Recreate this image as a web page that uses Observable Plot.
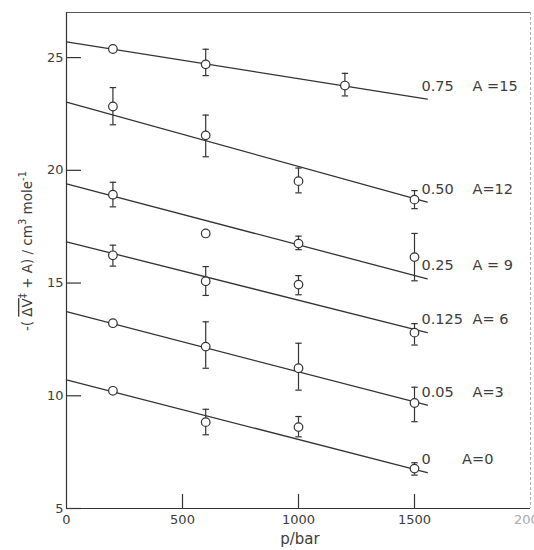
<!DOCTYPE html>
<html>
<head>
<meta charset="utf-8">
<script src="https://cdn.jsdelivr.net/npm/d3@7"></script>
<script src="https://cdn.jsdelivr.net/npm/@observablehq/plot@0.6"></script>
<style>
  html, body { margin: 0; padding: 0; background: #fff; }
  #chart svg { display: block; }
</style>
</head>
<body>
<div id="chart"></div>
<script>
// ---- data ----
const fractionLabels = ["0.75", "0.50", "0.25", "0.125", "0.05", "0"];
const aLabels = ["A =15", "A=12", "A = 9", "A= 6", "A=3", "A=0"];

// fitted straight lines: value at p = 0 and at the line's right end
const lineStart = [25.70, 23.02, 19.40, 16.83, 13.73, 10.71];
const lineEnd   = [23.16, 18.59, 15.19, 12.80, 9.58, 6.59];
const lineEndP = 1555;

// measured points per series (p in bar)
const pA15 = [200, 600, 1200];
const vA15 = [25.38, 24.70, 23.76];
const loA15 = [null, 24.20, 23.30];
const hiA15 = [null, 25.37, 24.30];

const pA12 = [200, 600, 1000, 1500];
const vA12 = [22.83, 21.55, 19.52, 18.70];
const loA12 = [22.02, 20.60, 19.00, 18.30];
const hiA12 = [23.67, 22.45, 20.10, 19.10];

const pA9 = [200, 600, 1000, 1500];
const vA9 = [18.92, 17.20, 16.75, 16.15];
const loA9 = [18.38, null, 16.48, 15.10];
const hiA9 = [19.47, null, 17.08, 17.20];

const pA6 = [200, 600, 1000, 1500];
const vA6 = [16.23, 15.08, 14.93, 12.80];
const loA6 = [15.75, 14.45, 14.48, 12.25];
const hiA6 = [16.68, 15.73, 15.33, 13.20];

const pA3 = [200, 600, 1000, 1500];
const vA3 = [13.22, 12.18, 11.22, 9.68];
const loA3 = [null, 11.22, 10.25, 8.85];
const hiA3 = [null, 13.28, 12.33, 10.38];

const pA0 = [200, 600, 1000, 1500];
const vA0 = [10.22, 8.83, 8.61, 6.77];
const loA0 = [null, 8.27, 8.18, 6.48];
const hiA0 = [null, 9.40, 9.08, 7.03];

const xTicks = [0, 500, 1000, 1500, 2000];
const xInnerTicks = [500, 1000, 1500];
const yTicks = [5, 10, 15, 20, 25];

// ---- build tables ----
const seriesP = [pA15, pA12, pA9, pA6, pA3, pA0];
const seriesV = [vA15, vA12, vA9, vA6, vA3, vA0];
const seriesLo = [loA15, loA12, loA9, loA6, loA3, loA0];
const seriesHi = [hiA15, hiA12, hiA9, hiA6, hiA3, hiA0];

const points = [];
seriesP.forEach((ps, s) => ps.forEach((p, i) => points.push({
  s, p, v: seriesV[s][i], lo: seriesLo[s][i], hi: seriesHi[s][i]
})));
const bars = points.filter(d => d.lo != null);

const lines = [];
lineStart.forEach((v0, s) => {
  lines.push({s, p: 0, v: v0});
  lines.push({s, p: lineEndP, v: lineEnd[s]});
});
const labels = fractionLabels.map((f, s) => ({s, f, a: aLabels[s], v: lineEnd[s]}));

const ink = "#333";
const capSymbol = {draw(ctx) { ctx.moveTo(-3.2, 0); ctx.lineTo(3.2, 0); }};

const chart = Plot.plot({
  width: 534,
  height: 550,
  marginLeft: 66,
  marginRight: 4,
  marginTop: 12,
  marginBottom: 42,
  x: {domain: [0, 2000]},
  y: {domain: [5, 27]},
  style: {fontFamily: "DejaVu Sans, sans-serif", fontSize: "13px", color: "#3c3c3c", background: "#fff"},
  marks: [
    // frame
    Plot.ruleY([5], {stroke: ink, strokeWidth: 1.2}),
    Plot.ruleY([27], {stroke: "#555", strokeWidth: 1}),
    Plot.ruleX([0], {stroke: ink, strokeWidth: 1.2}),
    Plot.ruleX([2000], {stroke: "#999", strokeWidth: 0.8, strokeDasharray: "3,2"}),
    // inward ticks
    Plot.axisY(yTicks, {anchor: "left", tickSize: -15, text: null, label: null, stroke: ink, strokeWidth: 1.2}),
    Plot.axisY(yTicks, {anchor: "left", tickSize: 0, tickPadding: 3, label: null, fontSize: 13, tickFormat: d3.format("d")}),
    Plot.axisX(xInnerTicks, {anchor: "bottom", tickSize: -14, text: null, label: null, stroke: ink, strokeWidth: 1.2}),
    Plot.axisX(xTicks, {anchor: "bottom", tickSize: 0, tickPadding: 6, label: null, fontSize: 13, tickFormat: d3.format("d"),
      fill: d => d === 2000 ? "#aaa" : "#3c3c3c"}),
    // fitted lines
    Plot.line(lines, {x: "p", y: "v", z: "s", stroke: ink, strokeWidth: 1.3}),
    // error bars
    Plot.ruleX(bars, {x: "p", y1: "lo", y2: "hi", stroke: ink, strokeWidth: 1.2}),
    Plot.dot(bars, {x: "p", y: "lo", symbol: capSymbol, stroke: ink, strokeWidth: 1.2, r: 3}),
    Plot.dot(bars, {x: "p", y: "hi", symbol: capSymbol, stroke: ink, strokeWidth: 1.2, r: 3}),
    // points
    Plot.dot(points, {x: "p", y: "v", r: 4.3, fill: "white", stroke: ink, strokeWidth: 1.2}),
    // series labels
    Plot.text(labels, {x: 1530, y: "v", text: "f", dy: -13, textAnchor: "start", fontSize: 14.5, fill: "#3c3c3c"}),
    Plot.text(labels, {x: d => d.s === 5 ? 1705 : 1750, y: "v", text: "a", dy: -13, textAnchor: "start", fontSize: 14.5, fill: "#3c3c3c"})
  ]
});

document.getElementById("chart").appendChild(chart);

// axis titles
const svg = d3.select(chart);
svg.append("text")
  .attr("x", 300).attr("y", 544)
  .attr("text-anchor", "middle")
  .attr("font-family", "DejaVu Sans, sans-serif")
  .attr("font-size", 15)
  .attr("fill", "#3c3c3c")
  .text("p/bar");

const yl = svg.append("text")
  .attr("transform", "translate(32,251) rotate(-90)")
  .attr("text-anchor", "middle")
  .attr("font-family", "DejaVu Sans, sans-serif")
  .attr("font-size", 13.5)
  .attr("fill", "#3c3c3c");
yl.append("tspan").text("-( ");
yl.append("tspan").attr("text-decoration", "overline").style("text-decoration", "overline").text("ΔV");
yl.append("tspan").attr("dy", -6).attr("font-size", 10).text("‡");
yl.append("tspan").attr("dy", 6).text(" + A) / cm");
yl.append("tspan").attr("dy", -6).attr("font-size", 10).text("3");
yl.append("tspan").attr("dy", 6).text(" mole");
yl.append("tspan").attr("dy", -6).attr("font-size", 10).text("-1");
</script>
</body>
</html>
